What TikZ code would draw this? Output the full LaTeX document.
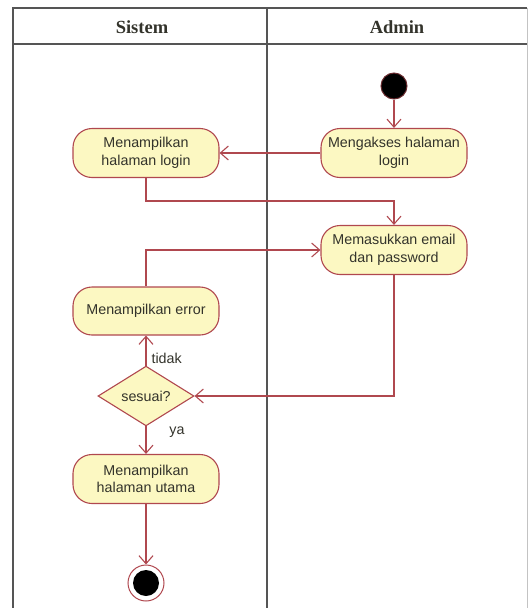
\documentclass[tikz,border=0pt]{standalone}
\usepackage{fontspec}
\setmainfont{Liberation Sans}
\newfontfamily\headfont{Liberation Serif}
\usetikzlibrary{shapes.geometric,arrows.meta}

\definecolor{actfill}{HTML}{FCF8C2}
\definecolor{actline}{HTML}{B0484F}
\definecolor{laneline}{HTML}{555555}
\definecolor{txt}{HTML}{33332B}

\tikzset{
  lane/.style={draw=laneline, line width=1.3pt},
  lanehead/.style={font=\headfont\bfseries\fontsize{18.5}{21}\selectfont, text=txt},
  action/.style={draw=actline, fill=actfill, line width=1.1pt, rounded corners=19pt,
    minimum width=146pt, minimum height=49pt, align=center, text=txt,
    font=\fontsize{14.3}{17.5}\selectfont, inner sep=2pt},
  decision/.style={diamond, draw=actline, fill=actfill, line width=1.1pt,
    minimum width=96pt, minimum height=46pt, inner sep=0pt, text=txt,
    font=\fontsize{14.3}{17.5}\selectfont},
  initial/.style={circle, fill=black, draw=actline!60!black, line width=1pt,
    minimum size=26pt, inner sep=0pt},
  finalring/.style={circle, draw=actline, fill=white, line width=1pt,
    minimum size=36pt, inner sep=0pt},
  finaldot/.style={circle, fill=black, minimum size=26pt, inner sep=0pt},
  flow/.style={draw=actline, line width=1.1pt, -{Straight Barb[length=8pt,width=14pt]}},
  guard/.style={text=txt, font=\fontsize{14.3}{17.5}\selectfont}
}

\begin{document}
\begin{tikzpicture}[x=1pt,y=-1pt]
\useasboundingbox (0,0) rectangle (531,608);

% swimlanes
\draw[lane] (13,608) -- (13,8) -- (527,8);
\draw[lane] (13,44) -- (527,44);
\draw[lane] (267,8) -- (267,608);
\draw[draw=laneline!35, line width=0.8pt] (527,8) -- (527,608);
\node[lanehead] (hsis) at (142,27) {Sistem};
\node[lanehead] (hadm) at (397,27) {Admin};

% activities
\node[initial] (start) at (394,86) {};
\node[action] (akses) at (394,153) {Mengakses halaman\\login};
\node[action] (login) at (146,153) {Menampilkan\\halaman login};
\node[action] (email) at (394,250) {Memasukkan email\\dan password};
\node[action, minimum height=48pt] (error) at (146,311) {Menampilkan error};
\node[decision] (dec) at (146,396) {sesuai?};
\node[action] (utama) at (146,479) {Menampilkan\\halaman utama};
\node[finalring] (end) at (146,583) {};
\node[finaldot] (enddot) at (end) {};

% control flow
\coordinate (j1) at (146,201);
\draw[flow] (start) -- (akses);
\draw[flow] (akses) -- (login);
\draw[flow] (login.south) -- (j1) -| (email.north);
\draw[flow] (error.north) |- (email.west);
\draw[flow] (email.south) |- (dec.east);
\draw[flow] (dec.north) -- (error.south);
\draw[flow] (dec.south) -- (utama.north);
\draw[flow] (utama) -- (end);

% guards
\node[guard, anchor=west] (gtidak) at (148,358) {tidak};
\node[guard] (gya) at (177,432) {ya};
\end{tikzpicture}
\end{document}
